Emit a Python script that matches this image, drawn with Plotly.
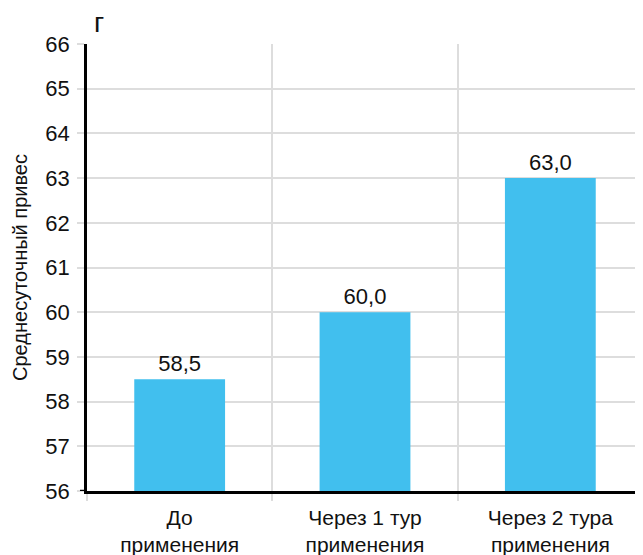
import plotly.graph_objects as go

categories = ["До<br>применения", "Через 1 тур<br>применения", "Через 2 тура<br>применения"]
values = [58.5, 60.0, 63.0]
labels = ["58,5", "60,0", "63,0"]
y_ticks = list(range(56, 67))

FONT = "Liberation Sans, Arial, sans-serif"
TXT = "#111111"
GRID = "#dddddd"

x_pos = list(range(len(categories)))

fig = go.Figure()
fig.add_trace(go.Bar(
    x=x_pos, y=values, width=0.49,
    marker=dict(color="#41BFEE", line=dict(width=0)),
    text=labels, textposition="outside", cliponaxis=False,
    textfont=dict(family=FONT, size=22, color=TXT),
))

fig.update_layout(
    width=635, height=547,
    margin=dict(l=79, r=0, t=36, b=64),
    plot_bgcolor="white", paper_bgcolor="white",
    showlegend=False,
    font=dict(family=FONT, size=21, color=TXT),
    xaxis=dict(
        range=[-0.5, 2.5], tickvals=x_pos, ticktext=categories,
        showgrid=False, zeroline=False,
        showline=True, linecolor="black", linewidth=2.5,
        ticks="", tickfont=dict(family=FONT, size=21, color=TXT),
        ticklabelstandoff=6,
        minor=dict(tick0=0.5, dtick=1, showgrid=True, gridcolor=GRID, gridwidth=1.5,
                   ticks="outside", ticklen=7, tickcolor=GRID, tickwidth=1.5),
    ),
    yaxis=dict(
        range=[56, 66], tickvals=y_ticks, ticktext=[str(v) for v in y_ticks],
        showgrid=True, gridcolor=GRID, gridwidth=1.5,
        zeroline=False, showline=True, linecolor="black", linewidth=2.5,
        ticks="outside", ticklen=7, tickcolor=GRID, tickwidth=1.5,
        ticklabelstandoff=3,
        tickfont=dict(family=FONT, size=22, color=TXT),
        title=dict(text="Среднесуточный привес", font=dict(family=FONT, size=20, color=TXT), standoff=13),
    ),
    shapes=[
        dict(type="line", xref="paper", yref="y", xsizemode="pixel", xanchor=0,
             x0=-7, x1=0, y0=56, y1=56, line=dict(color="black", width=2.5)),
        dict(type="line", xref="paper", yref="y", ysizemode="pixel", yanchor=56,
             x0=0, x1=0, y0=0, y1=-7, line=dict(color="black", width=2.5)),
    ],
    annotations=[dict(text="г", xref="paper", yref="paper", x=0.022, y=1.0, yshift=22,
                      showarrow=False, xanchor="center", yanchor="middle",
                      font=dict(family=FONT, size=28, color=TXT))],
)

fig.write_html("out.html")
